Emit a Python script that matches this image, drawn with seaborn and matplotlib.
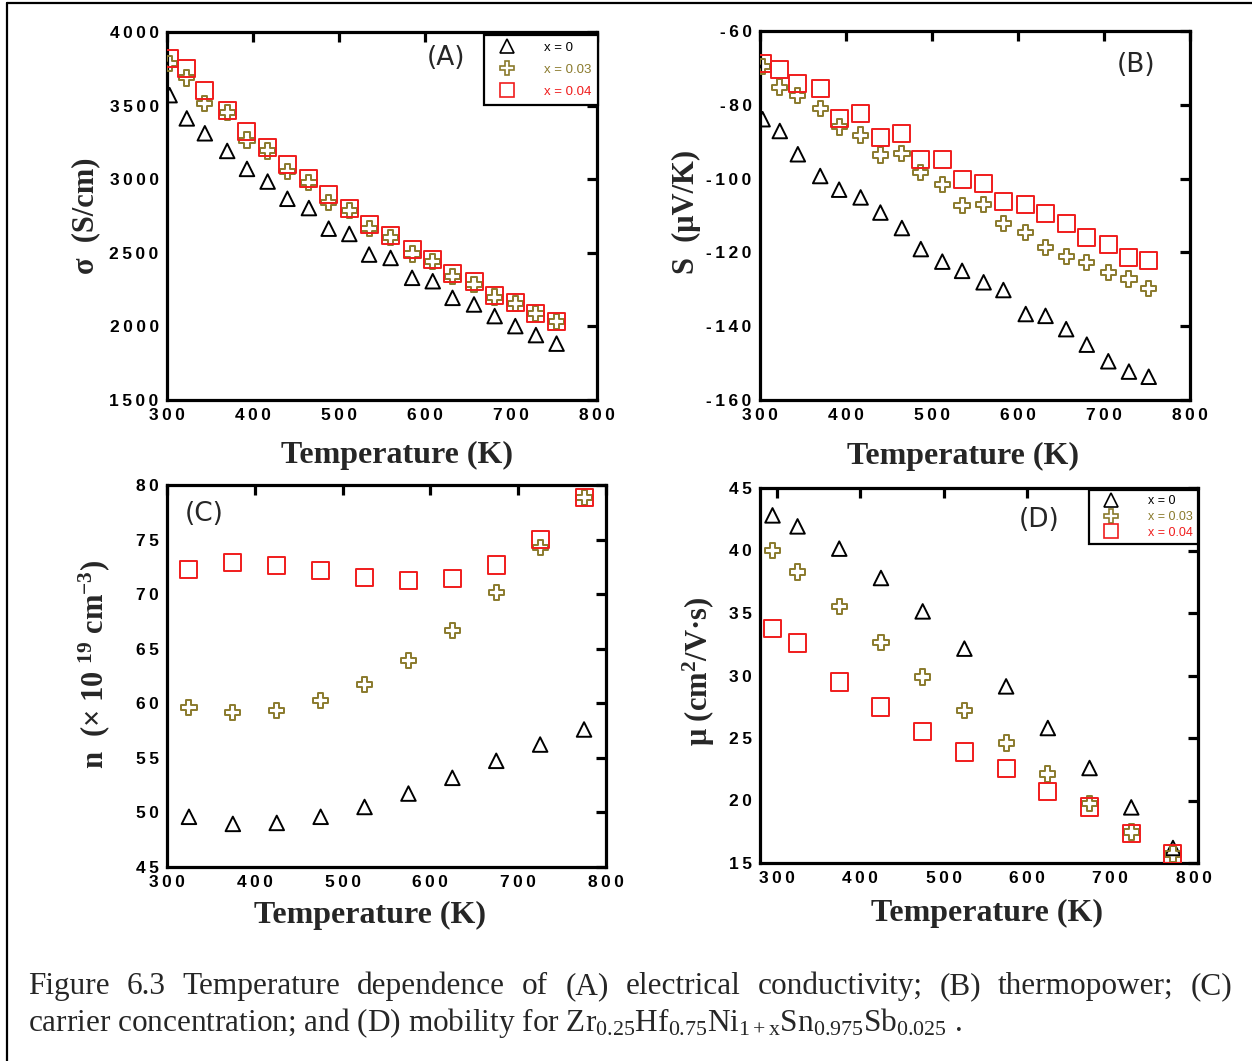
import numpy as np
import pandas as pd
import seaborn as sns
import matplotlib
matplotlib.use("Agg")
import matplotlib.pyplot as plt
from matplotlib.lines import Line2D

# ---------------- data ----------------
series_labels = ["x = 0", "x = 0.03", "x = 0.04"]

# (A) electrical conductivity
tA = [303, 323, 344, 370, 393, 417, 440, 465, 488, 512, 535, 560, 585, 609, 632, 657, 681, 705, 729, 753]
sigma_x0 = [3571, 3413, 3312, 3192, 3070, 2984, 2867, 2804, 2664, 2628, 2488, 2465, 2330, 2307, 2194, 2149, 2070, 2002, 1941, 1883]
sigma_x003 = [3786, 3688, 3515, 3454, 3266, 3192, 3052, 2980, 2844, 2786, 2664, 2605, 2492, 2442, 2339, 2284, 2199, 2158, 2086, 2032]
sigma_x004 = [3819, 3752, 3600, 3469, 3327, 3214, 3102, 3002, 2894, 2804, 2691, 2618, 2521, 2454, 2357, 2307, 2212, 2160, 2090, 2032]

# (B) thermopower
tB = [303, 323, 344, 370, 392, 417, 440, 465, 487, 512, 535, 560, 583, 609, 632, 656, 680, 705, 729, 752]
S_x0 = [-83.9, -87.1, -93.4, -99.3, -103.0, -105.1, -109.2, -113.4, -119.1, -122.5, -125.0, -128.1, -130.2, -136.7, -137.2, -140.8, -145.0, -149.5, -152.3, -153.7]
S_x003 = [-69.7, -75.2, -77.4, -81.0, -86.0, -88.2, -93.6, -93.2, -98.4, -101.5, -107.2, -107.0, -112.1, -114.6, -118.7, -121.1, -122.7, -125.4, -127.2, -129.8]
S_x004 = [-68.8, -70.4, -74.3, -75.5, -83.7, -82.4, -88.9, -87.8, -94.7, -94.7, -100.2, -101.3, -106.2, -106.9, -109.5, -112.2, -115.9, -117.8, -121.4, -122.3]

# (C) carrier concentration
tC = [325, 375, 425, 475, 525, 575, 625, 675, 725, 775]
n_x0 = [49.6, 48.95, 49.04, 49.6, 50.5, 51.73, 53.17, 54.73, 56.22, 57.6]
n_x003 = [59.62, 59.16, 59.37, 60.26, 61.72, 63.92, 66.7, 70.16, 74.29, 78.87]
n_x004 = [72.27, 72.88, 72.63, 72.15, 71.56, 71.23, 71.44, 72.67, 75.02, 78.87]

# (D) mobility
tD = [295, 325, 375, 425, 475, 525, 575, 625, 675, 725, 775]
mu_x0 = [42.81, 41.93, 40.15, 37.8, 35.13, 32.15, 29.13, 25.8, 22.6, 19.45, 16.2]
mu_x003 = [39.99, 38.28, 35.53, 32.65, 29.88, 27.19, 24.6, 22.12, 19.75, 17.48, 15.72]
mu_x004 = [33.75, 32.6, 29.48, 27.48, 25.53, 23.88, 22.55, 20.73, 19.48, 17.35, 15.72]

# ---------------- style ----------------
colors = ["#000000", "#8a7a2c", "#f01c1c"]
markers = ["^", "P", "s"]
sizes = [110, 120, 150]

sns.set_theme(style="white")
plt.rcParams["font.family"] = ["Liberation Sans", "DejaVu Sans"]
plt.rcParams["mathtext.fontset"] = "custom"
plt.rcParams["mathtext.rm"] = "Liberation Serif"
plt.rcParams["mathtext.it"] = "Liberation Serif:italic"
plt.rcParams["mathtext.bf"] = "Liberation Serif:bold"

W, H = 1252, 1061
fig = plt.figure(figsize=(W / 100, H / 100), dpi=100)
fig.patch.set_facecolor("white")


def px_axes(l, t, r, b):
    return fig.add_axes([l / W, 1 - b / H, (r - l) / W, (b - t) / H])


serif_bold = dict(family=["Liberation Serif", "DejaVu Serif"], weight="bold")
spaced = lambda v, pos: "\u2009".join(str(int(round(v))))


def style_axes(ax, xlim, ylim, xticks, yticks):
    ax.set_xlim(*xlim)
    ax.set_ylim(*ylim)
    ax.set_xticks(xticks)
    ax.set_yticks(yticks)
    ax.xaxis.set_major_formatter(plt.FuncFormatter(spaced))
    ax.yaxis.set_major_formatter(plt.FuncFormatter(spaced))
    for s in ax.spines.values():
        s.set_linewidth(2.3)
        s.set_color("black")
        s.set_visible(True)
    ax.tick_params(direction="in", length=7, width=2.3, top=True, right=True,
                   labelsize=12.5, pad=6, colors="black")
    for lab in ax.get_xticklabels() + ax.get_yticklabels():
        lab.set_fontweight("bold")
    ax.grid(False)
    ax.set_facecolor("white")


def draw_series(ax, t, ys):
    for y, c, m, s in zip(ys, colors, markers, sizes):
        df = pd.DataFrame({"T": t, "v": y})
        sns.scatterplot(data=df, x="T", y="v", ax=ax, marker=m, s=s,
                        color=c, facecolor="none", edgecolor=c, linewidth=1.4,
                        legend=False, zorder=3)
    ax.set_xlabel("")
    ax.set_ylabel("")


def add_legend(ax, anchor, fs, spacing, msize, textpad, borderpad):
    handles = [Line2D([], [], linestyle="none", marker=m, markersize=msize,
                      markerfacecolor="none", markeredgecolor=c, markeredgewidth=1.2)
               for c, m in zip(colors, markers)]
    leg = ax.legend(handles, series_labels, loc="upper right", bbox_to_anchor=anchor,
                    fontsize=fs, labelspacing=spacing, handletextpad=textpad,
                    borderpad=borderpad, frameon=True, fancybox=False, framealpha=1,
                    edgecolor="black", labelcolor=colors, handlelength=2.6,
                    borderaxespad=0)
    leg.get_frame().set_linewidth(1.6)
    leg.set_zorder(5)


# ---------- (A) ----------
axA = px_axes(167, 32, 597, 400)
draw_series(axA, tA, [sigma_x0, sigma_x003, sigma_x004])
style_axes(axA, (300, 800), (1500, 4000), range(300, 801, 100), range(1500, 4001, 500))
axA.text(0.649, 0.93, "(A)", transform=axA.transAxes, ha="center", va="center",
         fontsize=19, family=["DejaVu Sans"])
add_legend(axA, (1.003, 0.992), 9.5, 0.75, 10, 1.5, 0.5)
axA.text(0.535, -0.15, "Temperature (K)", transform=axA.transAxes, ha="center",
         va="center", fontsize=23, **serif_bold)
axA.text(-0.19, 0.50, "σ  (S/cm)", transform=axA.transAxes, ha="center",
         va="center", rotation=90, fontsize=22, **serif_bold)

# ---------- (B) ----------
axB = px_axes(760, 31, 1190, 400)
draw_series(axB, tB, [S_x0, S_x003, S_x004])
style_axes(axB, (300, 800), (-160, -60), range(300, 801, 100), range(-160, -59, 20))
axB.text(0.874, 0.908, "(B)", transform=axB.transAxes, ha="center", va="center",
         fontsize=19, family=["DejaVu Sans"])
axB.text(0.472, -0.152, "Temperature (K)", transform=axB.transAxes, ha="center",
         va="center", fontsize=23, **serif_bold)
axB.text(-0.172, 0.51, "S  (μV/K)", transform=axB.transAxes, ha="center",
         va="center", rotation=90, fontsize=22, **serif_bold)

# ---------- (C) ----------
axC = px_axes(167, 485, 606, 867)
draw_series(axC, tC, [n_x0, n_x003, n_x004])
style_axes(axC, (300, 800), (45, 80), range(300, 801, 100), range(45, 81, 5))
axC.text(0.084, 0.924, "(C)", transform=axC.transAxes, ha="center", va="center",
         fontsize=19, family=["DejaVu Sans"])
axC.text(0.462, -0.126, "Temperature (K)", transform=axC.transAxes, ha="center",
         va="center", fontsize=23, **serif_bold)
axC.text(-0.165, 0.53, r"n  (× 10 $^{\mathbf{19}}$ cm$^{\mathbf{-3}}$)", transform=axC.transAxes,
         ha="center", va="center", rotation=90, fontsize=22, **serif_bold)

# ---------- (D) ----------
axD = px_axes(760, 488, 1198, 863)
draw_series(axD, tD, [mu_x0, mu_x003, mu_x004])
style_axes(axD, (280, 805), (15, 45), range(300, 801, 100), range(15, 46, 5))
axD.text(0.637, 0.915, "(D)", transform=axD.transAxes, ha="center", va="center",
         fontsize=19, family=["DejaVu Sans"])
add_legend(axD, (1.0, 0.995), 9, 0.28, 10, 1.6, 0.45)
axD.text(0.518, -0.135, "Temperature (K)", transform=axD.transAxes, ha="center",
         va="center", fontsize=23, **serif_bold)
axD.text(-0.14, 0.51, r"μ (cm$^{\mathbf{2}}$/V·s)", transform=axD.transAxes,
         ha="center", va="center", rotation=90, fontsize=22, **serif_bold)

# ---------- outer frame ----------
fig.add_artist(Line2D([7 / W, 1.0], [1 - 3 / H, 1 - 3 / H], transform=fig.transFigure,
                      color="black", linewidth=1.6))
fig.add_artist(Line2D([7 / W, 7 / W], [0, 1 - 3 / H], transform=fig.transFigure,
                      color="black", linewidth=1.6))

# ---------- caption ----------
cap_font = dict(family=["Liberation Serif", "DejaVu Serif"], fontsize=22.5)
line1 = "Figure 6.3 Temperature dependence of (A) electrical conductivity; (B) thermopower; (C)"
words = line1.split(" ")
renderer = fig.canvas.get_renderer()
y1 = 1 - 994 / H
txts = [fig.text(0, y1, w, ha="left", va="baseline", **cap_font) for w in words]
widths = [t.get_window_extent(renderer).width for t in txts]
x0, x1 = 28, 1232
gap = (x1 - x0 - sum(widths)) / (len(words) - 1)
x = x0
for t, w in zip(txts, widths):
    t.set_x(x / W)
    x += w + gap

line2 = (r"carrier concentration; and (D) mobility for "
         r"Zr$_{0.25}$Hf$_{0.75}$Ni$_{\mathrm{1+x}}$Sn$_{0.975}$Sb$_{0.025}$ .")
fig.text(28 / W, 1 - 1031 / H, line2, ha="left", va="baseline", **cap_font)

fig.savefig("out.png", dpi=100, facecolor="white")
